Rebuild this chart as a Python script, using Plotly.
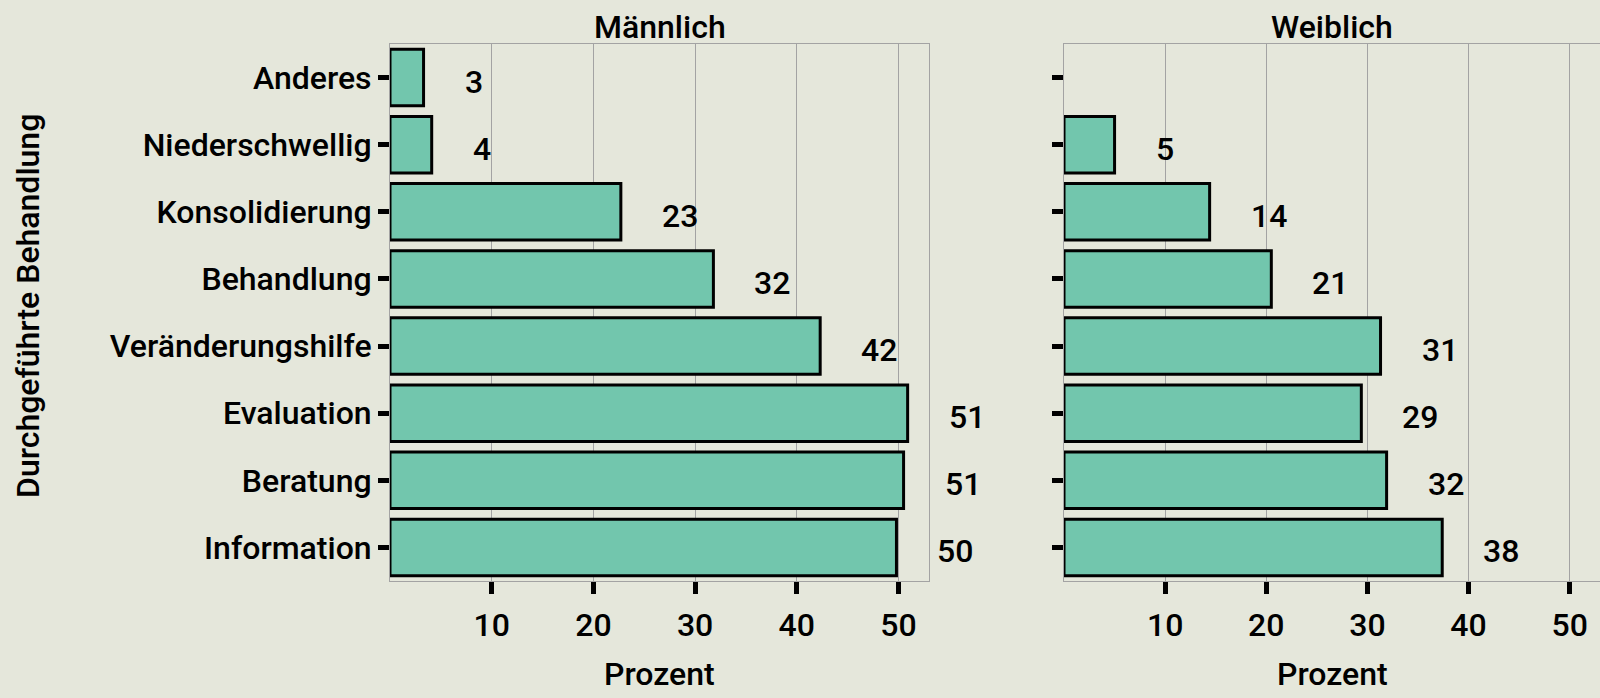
import plotly.graph_objects as go

categories = ["Information", "Beratung", "Evaluation", "Veränderungshilfe",
              "Behandlung", "Konsolidierung", "Niederschwellig", "Anderes"]
male_values = [49.8, 50.5, 50.9, 42.3, 31.8, 22.7, 4.1, 3.3]
male_labels = ["50", "51", "51", "42", "32", "23", "4", "3"]
female_values = [37.4, 31.9, 29.4, 31.3, 20.5, 14.4, 5.0, None]
female_labels = ["38", "32", "29", "31", "21", "14", "5", ""]
x_ticks = [10, 20, 30, 40, 50]
panel_titles = ["Männlich", "Weiblich"]
x_title = "Prozent"
y_title = "Durchgeführte Behandlung"

FONT = "Roboto, Liberation Sans, Arial, sans-serif"
FS = 32
FW = 500
BG = "#E5E7DB"
BAR = "#72C6AD"
GRID = "#A3A3A3"


def font():
    return dict(family=FONT, size=FS, color="black", weight=FW)


fig = go.Figure()
for i, vals in enumerate([male_values, female_values]):
    fig.add_trace(go.Bar(
        x=vals, y=categories, orientation="h",
        xaxis="x" if i == 0 else "x2", yaxis="y" if i == 0 else "y2",
        width=0.84,
        marker=dict(color=BAR, line=dict(color="black", width=3)),
        showlegend=False, hoverinfo="skip",
    ))

annotations = []
for i, (vals, labs) in enumerate([(male_values, male_labels), (female_values, female_labels)]):
    xr = "x" if i == 0 else "x2"
    yr = "y" if i == 0 else "y2"
    for c, v, t in zip(categories, vals, labs):
        if v is None or t == "":
            continue
        annotations.append(dict(
            x=v, y=c, xref=xr, yref=yr, text=t, showarrow=False,
            xanchor="left", yanchor="middle", xshift=39, yshift=-4,
            font=font(),
        ))

domains = [(390 / 1600, 929 / 1600), (1064 / 1600, 1.0)]
for d, title in zip(domains, panel_titles):
    annotations.append(dict(
        x=(d[0] + d[1]) / 2, y=1 - 27 / 698, xref="paper", yref="paper",
        text=title, showarrow=False, xanchor="center", yanchor="middle",
        font=font(),
    ))
    annotations.append(dict(
        x=(d[0] + d[1]) / 2, y=1 - 674 / 698, xref="paper", yref="paper",
        text=x_title, showarrow=False, xanchor="center", yanchor="middle",
        font=font(),
    ))
annotations.append(dict(
    x=28 / 1600, y=1 - 306 / 698, xref="paper", yref="paper",
    text=y_title, showarrow=False, textangle=-90,
    xanchor="center", yanchor="middle",
    font=font(),
))

ydom = [1 - 581 / 698, 1 - 44 / 698]
xaxis_common = dict(
    range=[0, 53], tickvals=x_ticks, ticks="outside", ticklen=12, tickwidth=5,
    tickcolor="black", showgrid=True, gridcolor=GRID, gridwidth=1,
    showline=True, linecolor=GRID, linewidth=1, mirror=True, zeroline=False,
    tickfont=font(), ticklabelstandoff=4, fixedrange=True,
)
yaxis_common = dict(
    categoryorder="array", categoryarray=categories, range=[-0.5, 7.5],
    ticks="outside", ticklen=11, tickwidth=5, tickcolor="black",
    showgrid=False, showline=True, linecolor=GRID, linewidth=1, mirror=True,
    zeroline=False, tickfont=font(),
    domain=ydom, fixedrange=True,
)

fig.update_layout(
    width=1600, height=698,
    margin=dict(l=0, r=0, t=0, b=0),
    paper_bgcolor=BG, plot_bgcolor=BG,
    xaxis=dict(domain=list(domains[0]), anchor="y", **xaxis_common),
    xaxis2=dict(domain=list(domains[1]), anchor="y2", **xaxis_common),
    yaxis=dict(anchor="x", showticklabels=True, **yaxis_common),
    yaxis2=dict(anchor="x2", showticklabels=False, **yaxis_common),
    annotations=annotations,
    bargap=0.16,
)

fig.write_html(
    "out.html",
    config={"displayModeBar": False},
    post_script="document.body.style.margin='0';document.body.style.overflow='hidden';",
)
